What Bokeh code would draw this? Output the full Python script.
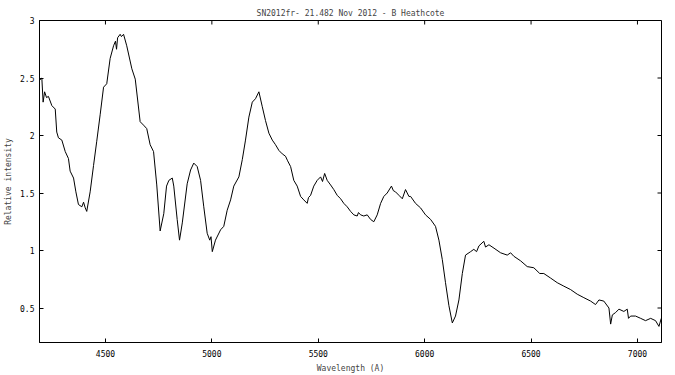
import math
from bokeh.plotting import figure
from bokeh.models import LinearAxis, FixedTicker, CustomJSTickFormatter, Range1d
from bokeh.embed import file_html
from bokeh.resources import INLINE

title_text = "SN2012fr- 21.482 Nov 2012 - B Heathcote"
x_label = "Wavelength (A)"
y_label = "Relative intensity"
x_ticks = [4500, 5000, 5500, 6000, 6500, 7000]
y_ticks = [0.5, 1, 1.5, 2, 2.5, 3]
x_min, x_max = 4190, 7113
y_min, y_max = 0.2, 3.0

wavelength = [4190, 4201, 4207, 4214, 4223, 4232, 4248, 4264, 4271, 4279, 4295, 4311, 4326, 4334,
              4350, 4361, 4373, 4389, 4397, 4405, 4412, 4428, 4444, 4459, 4475, 4491, 4506, 4522,
              4538, 4547, 4552, 4557, 4569, 4575, 4585, 4600, 4624, 4640, 4663, 4679, 4694, 4710,
              4726, 4741, 4757, 4774, 4787, 4798, 4814, 4821, 4837, 4848, 4861, 4884, 4900, 4915,
              4931, 4947, 4962, 4978, 4990, 4996, 5002, 5017, 5041, 5056, 5072, 5088, 5103, 5127,
              5143, 5158, 5174, 5190, 5205, 5221, 5237, 5252, 5268, 5284, 5299, 5315, 5331, 5346,
              5356, 5370, 5385, 5401, 5417, 5432, 5448, 5454, 5464, 5479, 5495, 5511, 5520, 5530,
              5542, 5558, 5573, 5589, 5605, 5620, 5636, 5652, 5667, 5683, 5689, 5699, 5714, 5730,
              5746, 5761, 5777, 5793, 5808, 5824, 5844, 5853, 5863, 5879, 5895, 5910, 5926, 5934,
              5957, 5981, 6004, 6028, 6051, 6067, 6083, 6098, 6114, 6130, 6145, 6161, 6177, 6192,
              6216, 6231, 6244, 6255, 6278, 6286, 6302, 6326, 6357, 6388, 6404, 6419, 6451, 6482,
              6513, 6541, 6560, 6592, 6623, 6654, 6686, 6717, 6748, 6780, 6803, 6819, 6842, 6866,
              6874, 6882, 6897, 6913, 6936, 6952, 6958, 6968, 6991, 7015, 7038, 7062, 7085, 7101,
              7112]
intensity = [2.48, 2.50, 2.29, 2.38, 2.33, 2.34, 2.26, 2.23, 2.03, 1.98, 1.96, 1.86, 1.80, 1.69,
             1.63, 1.51, 1.40, 1.38, 1.42, 1.37, 1.34, 1.51, 1.74, 1.95, 2.18, 2.42, 2.45, 2.67,
             2.78, 2.82, 2.75, 2.85, 2.88, 2.86, 2.88, 2.78, 2.58, 2.49, 2.12, 2.09, 2.06, 1.92,
             1.86, 1.57, 1.17, 1.32, 1.56, 1.61, 1.63, 1.56, 1.27, 1.09, 1.24, 1.58, 1.70, 1.76,
             1.73, 1.61, 1.38, 1.15, 1.09, 1.12, 0.99, 1.09, 1.18, 1.21, 1.35, 1.44, 1.56, 1.64,
             1.79, 1.96, 2.16, 2.29, 2.32, 2.38, 2.25, 2.13, 2.02, 1.96, 1.92, 1.87, 1.84, 1.82,
             1.78, 1.73, 1.61, 1.56, 1.47, 1.44, 1.41, 1.46, 1.48, 1.56, 1.61, 1.64, 1.60, 1.67,
             1.61, 1.57, 1.53, 1.48, 1.45, 1.41, 1.38, 1.34, 1.31, 1.30, 1.33, 1.31, 1.30, 1.31,
             1.27, 1.25, 1.31, 1.41, 1.47, 1.50, 1.56, 1.52, 1.51, 1.48, 1.45, 1.53, 1.47, 1.47,
             1.41, 1.37, 1.31, 1.27, 1.21, 1.09, 0.92, 0.72, 0.52, 0.37, 0.43, 0.57, 0.80, 0.96,
             0.99, 1.01, 0.99, 1.04, 1.08, 1.03, 1.05, 1.02, 0.98, 0.96, 0.98, 0.95, 0.91, 0.86,
             0.85, 0.80, 0.80, 0.76, 0.72, 0.69, 0.66, 0.62, 0.59, 0.56, 0.53, 0.57, 0.56, 0.50,
             0.36, 0.44, 0.46, 0.49, 0.47, 0.49, 0.41, 0.43, 0.43, 0.41, 0.39, 0.41, 0.39, 0.34,
             0.41]

FONT = "DejaVu Sans Mono"
FS = "8px"

p = figure(width=675, height=375, output_backend="svg", toolbar_location=None,
           x_range=Range1d(x_min, x_max), y_range=Range1d(y_min, y_max),
           min_border_left=39, min_border_right=14, min_border_top=20, min_border_bottom=32,
           x_axis_location=None, y_axis_location=None)
p.title.text = title_text
p.title.align = "center"
p.title.text_font = FONT
p.title.text_font_size = FS
p.title.text_font_style = "normal"
p.title.standoff = 6
p.title.offset = 0

p.grid.visible = False
p.outline_line_color = "black"
p.outline_line_width = 1
p.background_fill_color = "white"
p.border_fill_color = "white"

fmt = CustomJSTickFormatter(code="return tick.toString();")

def make_axis(ticks, label):
    ax = LinearAxis(ticker=FixedTicker(ticks=ticks), formatter=fmt)
    ax.major_tick_in = 4
    ax.major_tick_out = 0
    ax.minor_tick_in = 0
    ax.minor_tick_out = 0
    ax.axis_line_color = "black"
    ax.major_tick_line_color = "black"
    ax.major_label_text_font = FONT
    ax.major_label_text_font_size = FS
    ax.major_label_text_color = "black"
    ax.major_label_standoff = 7
    ax.axis_label = label
    ax.axis_label_text_font = FONT
    ax.axis_label_text_font_size = FS
    ax.axis_label_text_font_style = "normal"
    ax.axis_label_standoff = 4
    return ax

bottom = make_axis(x_ticks, x_label)
left = make_axis(y_ticks, y_label)
left.major_label_standoff = 5
left.axis_label_standoff = 4
p.add_layout(bottom, "below")
p.add_layout(left, "left")

# mirrored inward ticks on the top and right frame edges
p.scatter(x_ticks, [y_max] * len(x_ticks), marker="dash", size=8, angle=math.pi / 2,
          line_color="black", line_width=1)
p.scatter([x_max] * len(y_ticks), y_ticks, marker="dash", size=8,
          line_color="black", line_width=1)

p.line(wavelength, intensity, line_color="black", line_width=1)

open("out.html", "w").write(file_html(p, INLINE))
